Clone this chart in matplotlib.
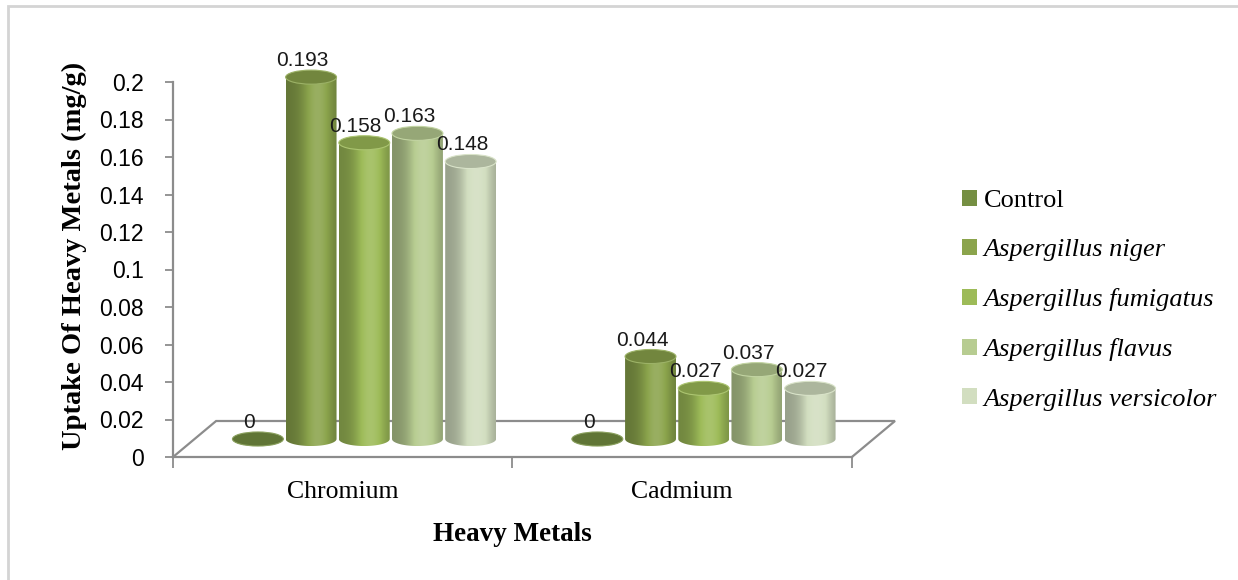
import numpy as np
import matplotlib
matplotlib.use("Agg")
import matplotlib.pyplot as plt
from matplotlib.patches import Ellipse, PathPatch, Polygon, Rectangle, Patch
from matplotlib.path import Path
from matplotlib.colors import to_rgb

metals = ["Chromium", "Cadmium"]
series = ["Control", "Aspergillus niger", "Aspergillus fumigatus",
          "Aspergillus flavus", "Aspergillus versicolor"]
control = [0.0, 0.0]
niger = [0.193, 0.044]
fumigatus = [0.158, 0.027]
flavus = [0.163, 0.037]
versicolor = [0.148, 0.027]
values = [control, niger, fumigatus, flavus, versicolor]
colors = ["#758f42", "#8ba44c", "#9dbb58", "#b7cc91", "#d2dec0"]
yticks = [0, 0.02, 0.04, 0.06, 0.08, 0.1, 0.12, 0.14, 0.16, 0.18, 0.2]

W, H = 1238, 580
fig = plt.figure(figsize=(W / 100, H / 100), dpi=100)

# faint frame round the chart area (right/bottom edges fall outside the image)
fig.patches.append(Rectangle((8 / W, -0.05), 1.1, 1 - 6 / H + 0.05, transform=fig.transFigure,
                             fill=False, ec="#d4d4d4", lw=2))

# axes placed in pixels: front floor edge y=457, x 173..852; floor depth shifts +43px / +36px
ymax = 0.215
xmax = 2.127
ax = fig.add_axes([173 / W, (H - 457) / H, 722 / W, ymax * 1875 / H])
dx, dy = 0.127, 0.0192
grey = "#8c8c8c"

for s in ("top", "right"):
    ax.spines[s].set_visible(False)
ax.spines["left"].set_bounds(0, 0.2)
ax.spines["bottom"].set_bounds(0, 2)
for s in ("left", "bottom"):
    ax.spines[s].set_color(grey)
    ax.spines[s].set_linewidth(1.6)

ax.set_yticks(yticks)
ax.set_yticklabels([f"{v:g}" for v in yticks], family="Liberation Sans", fontsize=16.5)
ax.tick_params(axis="y", length=6, color=grey, width=1.3, pad=15)
ax.set_xticks([0, 1, 2])
ax.set_xticklabels([])
ax.tick_params(axis="x", which="major", length=8, color=grey, width=1.3)
ax.set_xticks([0.5, 1.5], minor=True)
ax.set_xticklabels(metals, minor=True, family="Liberation Serif", fontsize=18.5)
ax.tick_params(axis="x", which="minor", length=0, pad=17)

# floor outline (front edge is the bottom spine)
ax.add_patch(Polygon([(0, 0), (dx, dy), (2 + dx, dy), (2, 0)], closed=False, fill=False,
                     ec=grey, lw=1.6, clip_on=False, zorder=1))

ax.set_ylabel("Uptake Of Heavy Metals (mg/g)", family="Liberation Serif", fontweight="bold",
              fontsize=20.5, labelpad=9)
ax.set_xlabel("Heavy Metals", family="Liberation Serif", fontweight="bold", fontsize=19.5,
              labelpad=14)
ax.xaxis.label.set_x(1 / xmax)


def shade(col, f):
    c = np.array(to_rgb(col))
    if f < 1:
        return c * f
    return c + (1 - c) * (f - 1)


t = np.linspace(0, 1, 120)
profile = 0.72 + 0.40 * np.exp(-((t - 0.62) / 0.3) ** 2)

step, bw, eh = 0.1567, 0.150, 0.0075
base = dy / 2
for k, (vals, col) in enumerate(zip(values, colors)):
    for i, v in enumerate(vals):
        xc = i + 0.5 + dx / 2 + (k - 2) * step
        x0, x1 = xc - bw / 2, xc + bw / 2
        top = base + v
        # body outline: bottom half-ellipse, sides, straight top (covered by top ellipse)
        th = np.linspace(np.pi, 2 * np.pi, 40)
        arc = np.column_stack([xc + bw / 2 * np.cos(th), base + eh / 2 * np.sin(th)])
        pts = np.vstack([arc, [[x1, top], [x0, top]], arc[:1]])
        body = PathPatch(Path(pts), fc="none", ec="none")
        ax.add_patch(body)
        rgb = np.array([[shade(col, f) for f in profile]])
        im = ax.imshow(np.clip(rgb, 0, 1), extent=[x0, x1, base - eh / 2, top], aspect="auto",
                       interpolation="bilinear", zorder=2 + k * 0.1)
        im.set_clip_path(body)
        ax.add_patch(Ellipse((xc, top), bw, eh, fc=shade(col, 0.82), ec=shade(col, 1.15),
                             lw=0.8, zorder=2.05 + k * 0.1))
        ax.text(xc - 0.025, top + 0.0088, f"{v:g}", ha="center", va="center",
                family="Liberation Sans", fontsize=15, color="#1a1a1a", zorder=5)

ax.set_xlim(0, xmax)
ax.set_ylim(0, ymax)

handles = [Patch(fc=c, ec="none") for c in colors]
leg = fig.legend(handles, series, loc="upper left", bbox_to_anchor=(962 / W, 1 - 190 / H),
                 frameon=False, prop={"family": "Liberation Serif", "size": 19},
                 handlelength=0.55, handleheight=0.55, handletextpad=0.28, labelspacing=1.02,
                 borderpad=0, borderaxespad=0)
for txt in leg.get_texts()[1:]:
    txt.set_fontstyle("italic")

fig.savefig("out.png", dpi=100)
